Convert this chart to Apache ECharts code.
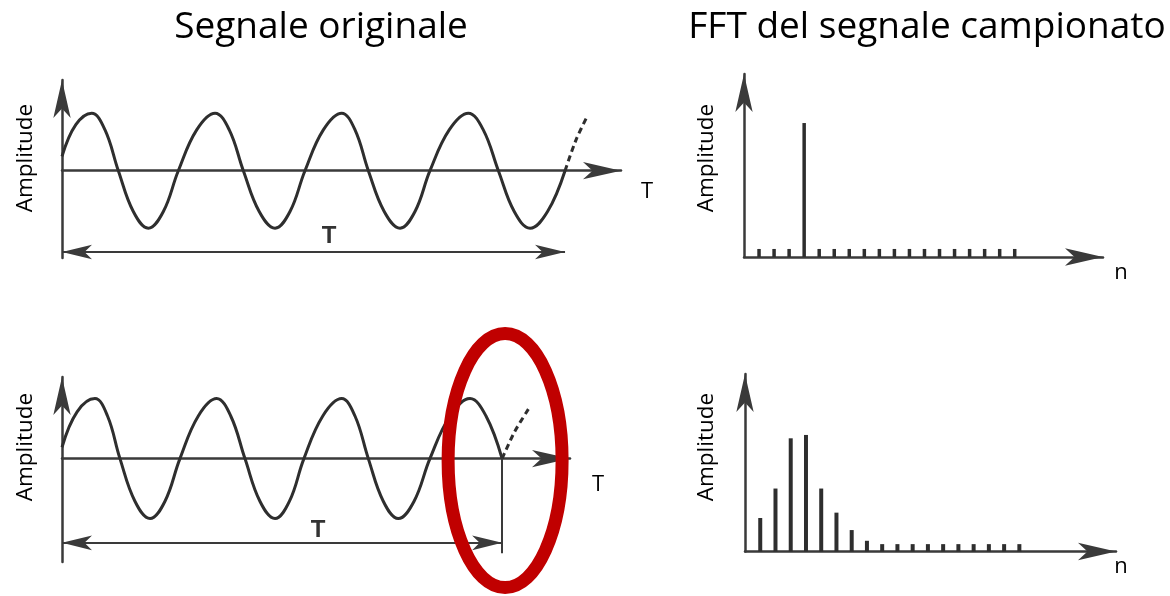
<!DOCTYPE html>
<html>
<head>
<meta charset="utf-8">
<script src="https://cdn.jsdelivr.net/npm/echarts@6/dist/echarts.min.js"></script>
<style>
  html, body { margin: 0; padding: 0; background: #ffffff; }
  #chart { width: 1170px; height: 596px; }
</style>
</head>
<body>
<div id="chart"></div>
<script>
// Time is measured in sine periods, amplitude relative to the peak value.

// Window holding a whole number of periods (4)
const fullTime = [0, 0.11, 0.236, 0.342, 0.448, 0.567, 0.686, 0.806, 0.925,
  1.071, 1.217, 1.33, 1.442, 1.568, 1.694, 1.813, 1.932,
  2.078, 2.224, 2.33, 2.436, 2.562, 2.688, 2.807, 2.926,
  3.079, 3.231, 3.35, 3.47, 3.596, 3.722, 3.861, 4.0];
const fullAmp = [0.25, 0.8, 1, 0.71, 0, -0.71, -1, -0.71, 0,
  0.71, 1, 0.71, 0, -0.71, -1, -0.71, 0,
  0.71, 1, 0.71, 0, -0.71, -1, -0.71, 0,
  0.71, 1, 0.71, 0, -0.71, -1, -0.71, 0];
const fullNextTime = [4.0, 4.09, 4.18];
const fullNextAmp = [0, 0.55, 0.96];
const fullWindowEnd = 4;

// Window cut after 3.5 periods
const cutTime = [0, 0.12, 0.262, 0.362, 0.461, 0.58, 0.7, 0.819, 0.938,
  1.084, 1.23, 1.342, 1.455, 1.574, 1.694, 1.809, 1.924,
  2.074, 2.224, 2.33, 2.436, 2.555, 2.674, 2.8, 2.926,
  3.086, 3.245, 3.372, 3.5];
const cutAmp = [0.19, 0.78, 1, 0.71, 0, -0.71, -1, -0.71, 0,
  0.71, 1, 0.71, 0, -0.71, -1, -0.71, 0,
  0.71, 1, 0.71, 0, -0.71, -1, -0.71, 0,
  0.71, 1, 0.71, 0];
const cutNextTime = [3.5, 3.6, 3.714];
const cutNextAmp = [0, 0.45, 0.84];
const cutWindowEnd = 3.5;

// FFT bins of the sampled signal
const binIndex = [1, 2, 3, 4, 5, 6, 7, 8, 9, 10, 11, 12, 13, 14, 15, 16, 17, 18];
const fftFullAmp = [0.6, 0.6, 0.6, 10, 0.6, 0.6, 0.6, 0.6, 0.6, 0.6, 0.6, 0.6, 0.6, 0.6, 0.6, 0.6, 0.6, 0.6];
const fftCutAmp = [2.5, 4.7, 8.45, 8.7, 4.7, 2.9, 1.6, 0.8, 0.55, 0.55, 0.55, 0.55, 0.55, 0.55, 0.55, 0.55, 0.55, 0.55];

// Headings and labels
const titleLeft = 'Segnale originale';
const titleRight = 'FFT del segnale campionato';
const ampLabel = 'Amplitude';
const timeLabel = 'T';
const binLabel = 'n';

const ink = '#2e2e2e';
const axisInk = '#3a3a3a';
const font = '"Open Sans", "Liberation Sans", sans-serif';

const zip = (a, b) => a.map((v, i) => [v, b[i]]);

function arrowAxis(grid, min, max) {
  return {
    type: 'value', gridIndex: grid, min: min, max: max,
    axisLine: { show: true, onZero: true, symbol: ['none', 'arrow'], symbolSize: [13, 38],
      lineStyle: { color: axisInk, width: 2.5 } },
    axisTick: { show: false }, axisLabel: { show: false }, splitLine: { show: false }
  };
}

function windowMarks(end, bracketLevel, dropLevel) {
  return {
    silent: true,
    animation: false,
    label: { show: false },
    lineStyle: { color: axisInk, width: 2, type: 'solid' },
    symbolSize: [11, 30],
    data: [
      [{ coord: [0, bracketLevel], symbol: 'arrow' }, { coord: [end, bracketLevel], symbol: 'arrow' }],
      [{ coord: [end, 0], symbol: 'none' }, { coord: [end, dropLevel], symbol: 'none' }]
    ]
  };
}

const chart = echarts.init(document.getElementById('chart'), null, { renderer: 'canvas' });

const option = {
  animation: false,
  backgroundColor: '#ffffff',
  grid: [
    { left: 62, top: 80, width: 559, height: 178 },
    { left: 62, top: 377, width: 508, height: 185 },
    { left: 744, top: 74, width: 359, height: 183 },
    { left: 745, top: 374, width: 371, height: 177.5 }
  ],
  xAxis: [
    arrowAxis(0, 0, 4.445),
    arrowAxis(1, 0, 4.04),
    arrowAxis(2, 0, 23.87),
    arrowAxis(3, 0, 24.34)
  ],
  yAxis: [
    arrowAxis(0, -1.518, 1.577),
    arrowAxis(1, -1.723, 1.36),
    arrowAxis(2, 0, 13.66),
    arrowAxis(3, 0, 13.25)
  ],
  series: [
    {
      type: 'line', xAxisIndex: 0, yAxisIndex: 0, data: zip(fullTime, fullAmp),
      showSymbol: false, smooth: 0.4, lineStyle: { color: ink, width: 3 },
      markLine: windowMarks(fullWindowEnd, -1.414, -1.757)
    },
    {
      type: 'line', xAxisIndex: 0, yAxisIndex: 0, data: zip(fullNextTime, fullNextAmp),
      showSymbol: false, smooth: 0.3, lineStyle: { color: ink, width: 3, type: [6, 4] }
    },
    {
      type: 'line', xAxisIndex: 1, yAxisIndex: 1, data: zip(cutTime, cutAmp),
      showSymbol: false, smooth: 0.4, lineStyle: { color: ink, width: 3 },
      markLine: windowMarks(cutWindowEnd, -1.403, -1.578)
    },
    {
      type: 'line', xAxisIndex: 1, yAxisIndex: 1, data: zip(cutNextTime, cutNextAmp),
      showSymbol: false, smooth: 0.3, lineStyle: { color: ink, width: 3, type: [6, 4] }
    },
    {
      type: 'bar', xAxisIndex: 2, yAxisIndex: 2, data: zip(binIndex, fftFullAmp),
      barWidth: 3.5, itemStyle: { color: ink }
    },
    {
      type: 'bar', xAxisIndex: 3, yAxisIndex: 3, data: zip(binIndex, fftCutAmp),
      barWidth: 4, itemStyle: { color: ink }
    }
  ]
};
chart.setOption(option);

// Text labels and the highlight around the end of the cut window
const endPx = chart.convertToPixel({ xAxisIndex: 1, yAxisIndex: 1 }, [cutWindowEnd, 0]);
const txt = (x, y, text, size, extra) => ({
  type: 'text', x: x, y: y, z: 100,
  style: Object.assign({ text: text, font: size + 'px ' + font, fill: '#000', align: 'center', verticalAlign: 'middle' }, extra || {})
});
const vtxt = (x, y, text) => ({
  type: 'text', x: x, y: y, rotation: Math.PI / 2, z: 100,
  style: { text: text, font: '22.5px ' + font, fill: '#000', align: 'center', verticalAlign: 'middle' }
});
const bracketFont = { font: 'bold 24px "Liberation Sans", sans-serif', fill: '#333' };

chart.setOption({
  graphic: [
    txt(321, 27, titleLeft, 37),
    txt(927, 27, titleRight, 37),
    vtxt(26, 158, ampLabel),
    vtxt(707, 158, ampLabel),
    vtxt(26, 447, ampLabel),
    vtxt(707, 447, ampLabel),
    txt(647, 192, timeLabel, 22),
    txt(598, 485, timeLabel, 22),
    txt(1121, 273, binLabel, 22),
    txt(1121, 567, binLabel, 22),
    txt(329, 236, timeLabel, 24, bracketFont),
    txt(318, 530, timeLabel, 24, bracketFont),
    {
      type: 'ellipse', z: 200,
      shape: { cx: endPx[0] + 3, cy: endPx[1] + 2, rx: 57, ry: 127 },
      style: { fill: 'none', stroke: '#c00000', lineWidth: 13 }
    }
  ]
});
</script>
</body>
</html>
